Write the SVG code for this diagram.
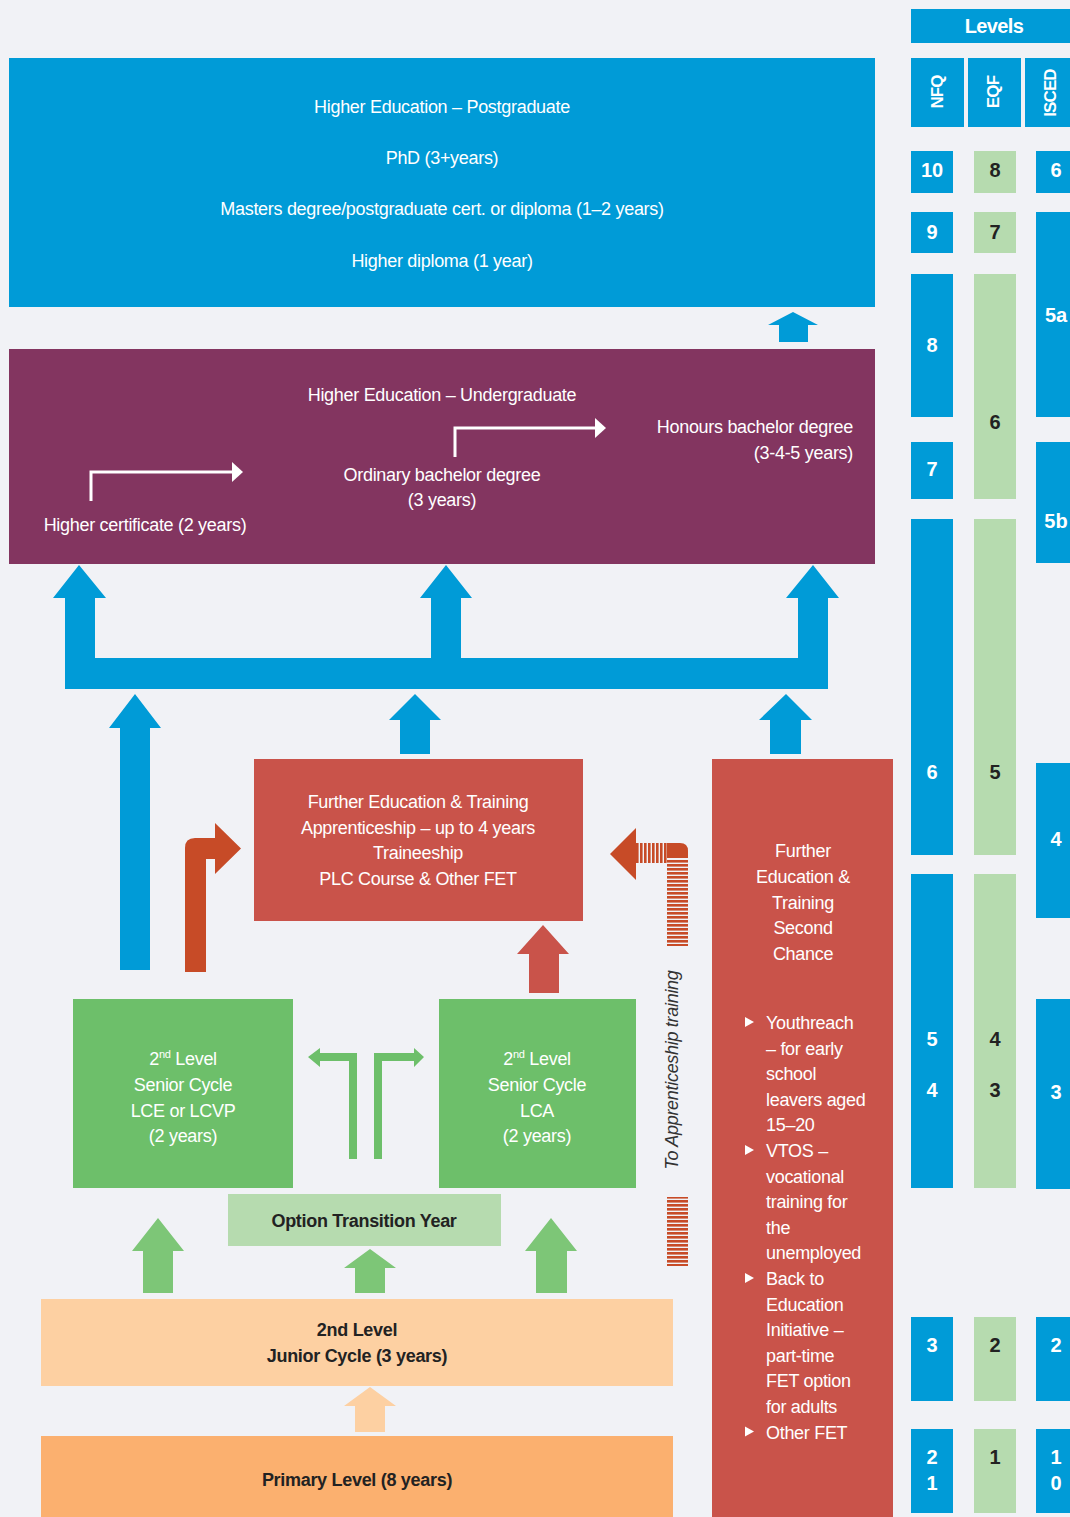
<svg xmlns="http://www.w3.org/2000/svg" width="1070" height="1517" viewBox="0 0 1070 1517">
<style>
.t{font-family:"Liberation Sans","Arial",sans-serif;font-size:18px;letter-spacing:-0.3px;fill:#fff;text-anchor:middle}
.b{font-weight:bold;fill:#222}
.lv{font-family:"Liberation Sans","Arial",sans-serif;font-size:20px;font-weight:bold;fill:#fff;text-anchor:middle}
.hd{font-size:17px;letter-spacing:-0.9px}
.dk{fill:#222}
.blue{fill:#009bd7}
.lg{fill:#b6dbaf}
.l{text-anchor:start}
.r{text-anchor:end}
</style>
<defs>
<pattern id="vs" width="4" height="10" patternUnits="userSpaceOnUse"><rect x="0" y="0" width="2.6" height="10" fill="#c74b27"/></pattern>
<pattern id="hs" width="10" height="4" patternUnits="userSpaceOnUse"><rect x="0" y="0" width="10" height="2.6" fill="#c74b27"/></pattern>
</defs>
<rect width="1070" height="1517" fill="#f1f2f6"/>

<g id="postgraduate">
<rect x="9" y="58" width="866" height="249" class="blue"/>
<text class="t" x="442" y="113">Higher Education – Postgraduate</text>
<text class="t" x="442" y="164">PhD (3+years)</text>
<text class="t" x="442" y="215">Masters degree/postgraduate cert. or diploma (1–2 years)</text>
<text class="t" x="442" y="267">Higher diploma (1 year)</text>
</g>

<g id="undergraduate">
<rect x="9" y="349" width="866" height="215" fill="#833560"/>
<text class="t" x="442" y="401">Higher Education – Undergraduate</text>
<text class="t r" x="853" y="433">Honours bachelor degree</text>
<text class="t r" x="853" y="459">(3-4-5 years)</text>
<text class="t" x="442" y="481">Ordinary bachelor degree</text>
<text class="t" x="442" y="506">(3 years)</text>
<text class="t" x="145" y="531">Higher certificate (2 years)</text>
<path d="M91,501 V472 H236" fill="none" stroke="#fff" stroke-width="3"/>
<path d="M232,462 L243,472 L232,482 Z" fill="#fff"/>
<path d="M455,457 V428 H599" fill="none" stroke="#fff" stroke-width="3"/>
<path d="M595,418 L606,428 L595,438 Z" fill="#fff"/>
</g>

<g id="fet">
<rect x="254" y="759" width="329" height="162" fill="#c9534a"/>
<text class="t" x="418" y="808">Further Education &amp; Training</text>
<text class="t" x="418" y="834">Apprenticeship – up to 4 years</text>
<text class="t" x="418" y="859">Traineeship</text>
<text class="t" x="418" y="885">PLC Course &amp; Other FET</text>
</g>

<g id="fet-second-chance">
<rect x="712" y="759" width="181" height="758" fill="#c9534a"/>
<text class="t" x="803" y="857">Further</text>
<text class="t" x="803" y="883">Education &amp;</text>
<text class="t" x="803" y="909">Training</text>
<text class="t" x="803" y="934">Second</text>
<text class="t" x="803" y="960">Chance</text>
<g fill="#fff">
<path d="M745,1017 L754,1022 L745,1027 Z"/>
<path d="M745,1145 L754,1150 L745,1155 Z"/>
<path d="M745,1273 L754,1278 L745,1283 Z"/>
<path d="M745,1426.6 L754,1431.6 L745,1436.6 Z"/>
</g>
<text class="t l" x="766" y="1029">Youthreach</text>
<text class="t l" x="766" y="1054.6">– for early</text>
<text class="t l" x="766" y="1080.2">school</text>
<text class="t l" x="766" y="1105.8">leavers aged</text>
<text class="t l" x="766" y="1131.4">15–20</text>
<text class="t l" x="766" y="1157">VTOS –</text>
<text class="t l" x="766" y="1182.6">vocational</text>
<text class="t l" x="766" y="1208.2">training for</text>
<text class="t l" x="766" y="1233.8">the</text>
<text class="t l" x="766" y="1259.4">unemployed</text>
<text class="t l" x="766" y="1285">Back to</text>
<text class="t l" x="766" y="1310.6">Education</text>
<text class="t l" x="766" y="1336.2">Initiative –</text>
<text class="t l" x="766" y="1361.8">part-time</text>
<text class="t l" x="766" y="1387.4">FET option</text>
<text class="t l" x="766" y="1413">for adults</text>
<text class="t l" x="766" y="1438.6">Other FET</text>
</g>

<g id="senior-cycle-lce">
<rect x="73" y="999" width="220" height="189" fill="#6dbf6a"/>
<text class="t" x="183" y="1065">2<tspan font-size="11" dy="-7">nd</tspan><tspan dy="7"> Level</tspan></text>
<text class="t" x="183" y="1091">Senior Cycle</text>
<text class="t" x="183" y="1117">LCE or LCVP</text>
<text class="t" x="183" y="1142">(2 years)</text>
</g>

<g id="senior-cycle-lca">
<rect x="439" y="999" width="197" height="189" fill="#6dbf6a"/>
<text class="t" x="537" y="1065">2<tspan font-size="11" dy="-7">nd</tspan><tspan dy="7"> Level</tspan></text>
<text class="t" x="537" y="1091">Senior Cycle</text>
<text class="t" x="537" y="1117">LCA</text>
<text class="t" x="537" y="1142">(2 years)</text>
</g>

<g id="transition-year">
<rect x="228" y="1194" width="273" height="52" class="lg"/>
<text class="t b" x="364" y="1227">Option Transition Year</text>
</g>

<g id="junior-cycle">
<rect x="41" y="1299" width="632" height="87" fill="#fdd0a2"/>
<text class="t b" x="357" y="1336">2nd Level</text>
<text class="t b" x="357" y="1362">Junior Cycle (3 years)</text>
</g>

<g id="primary">
<rect x="41" y="1436" width="632" height="81" fill="#fbb06f"/>
<text class="t b" x="357" y="1486">Primary Level (8 years)</text>
</g>

<g id="connectors">
<path class="blue" d="M779,342 L779,325 L768,325 L793,312 L818,325 L808,325 L808,342 Z"/>
<path class="blue" d="M65,689 L65,598 L53,598 L79,565 L106,598 L95,598 L95,658 L431,658 L431,598 L420,598 L446,565 L472,598 L461,598 L461,658 L798,658 L798,598 L786,598 L813,565 L839,598 L828,598 L828,689 Z"/>
<path class="blue" d="M120,970 L120,728 L109,728 L135,694 L161,728 L150,728 L150,970 Z"/>
<path class="blue" d="M400,754 L400,720 L389,720 L415,694 L441,720 L430,720 L430,754 Z"/>
<path class="blue" d="M770,754 L770,720 L759,720 L786,694 L812,720 L801,720 L801,754 Z"/>
<path fill="#c74b27" d="M185,972 L185,848 Q185,838 195,838 L215,838 L215,823 L241,848.5 L215,874 L215,859 L206,859 L206,972 Z"/>
<path fill="#c9534a" d="M529,993 L529,954 L517,954 L543,925 L569,954 L559,954 L559,993 Z"/>
<path fill="#c74b27" d="M610,854 L636,828 L636,880 Z"/>
<rect x="636" y="843" width="32" height="20" fill="url(#vs)"/>
<path fill="#c74b27" d="M667,843 L680,843 Q688,843 688,851 L688,858 L667,858 Z"/>
<rect x="667" y="859" width="21" height="87" fill="url(#hs)"/>
<rect x="667" y="1197" width="21" height="69" fill="url(#hs)"/>
<text font-family="'Liberation Sans',Arial,sans-serif" font-style="italic" font-size="18" letter-spacing="-0.3" fill="#333" text-anchor="middle" transform="translate(678,1070) rotate(-90)">To Apprenticeship training</text>
<path fill="#6dbf6a" d="M349,1159 L349,1061 L320,1061 L320,1067 L308,1057 L320,1048 L320,1053 L357,1053 L357,1159 Z"/>
<path fill="#6dbf6a" d="M382,1159 L382,1061 L414,1061 L414,1067 L424,1057 L414,1048 L414,1053 L374,1053 L374,1159 Z"/>
<path fill="#7dc677" d="M143,1293 L143,1251 L132,1251 L158,1218 L184,1251 L173,1251 L173,1293 Z"/>
<path fill="#7dc677" d="M355,1293 L355,1268 L344,1268 L370,1249 L396,1268 L385,1268 L385,1293 Z"/>
<path fill="#7dc677" d="M536,1293 L536,1251 L525,1251 L551,1218 L577,1251 L567,1251 L567,1293 Z"/>
<path fill="#fdd0a2" d="M355,1432 L355,1406 L344,1406 L370,1387 L396,1406 L385,1406 L385,1432 Z"/>
</g>

<g id="levels">
<rect x="911" y="9" width="159" height="34" class="blue"/>
<text class="lv" font-size="18" letter-spacing="-0.6" x="994" y="33">Levels</text>
<rect x="911" y="58" width="53" height="69" class="blue"/>
<rect x="968" y="58" width="53" height="69" class="blue"/>
<rect x="1025" y="58" width="45" height="69" class="blue"/>
<text class="lv hd" transform="translate(943,92) rotate(-90)">NFQ</text>
<text class="lv hd" transform="translate(999,92) rotate(-90)">EQF</text>
<text class="lv hd" transform="translate(1056,93) rotate(-90)">ISCED</text>
</g>

<g id="nfq">
<rect x="911" y="151" width="42" height="42" class="blue"/>
<text class="lv" x="932" y="177">10</text>
<rect x="911" y="212" width="42" height="41" class="blue"/>
<text class="lv" x="932" y="239">9</text>
<rect x="911" y="274" width="42" height="143" class="blue"/>
<text class="lv" x="932" y="352">8</text>
<rect x="911" y="442" width="42" height="57" class="blue"/>
<text class="lv" x="932" y="476">7</text>
<rect x="911" y="519" width="42" height="336" class="blue"/>
<text class="lv" x="932" y="779">6</text>
<rect x="911" y="874" width="42" height="314" class="blue"/>
<text class="lv" x="932" y="1046">5</text>
<text class="lv" x="932" y="1097">4</text>
<rect x="911" y="1317" width="42" height="84" class="blue"/>
<text class="lv" x="932" y="1352">3</text>
<rect x="911" y="1429" width="42" height="84" class="blue"/>
<text class="lv" x="932" y="1464">2</text>
<text class="lv" x="932" y="1490">1</text>
</g>

<g id="eqf">
<rect x="974" y="151" width="42" height="42" class="lg"/>
<text class="lv dk" x="995" y="177">8</text>
<rect x="974" y="212" width="42" height="41" class="lg"/>
<text class="lv dk" x="995" y="239">7</text>
<rect x="974" y="274" width="42" height="225" class="lg"/>
<text class="lv dk" x="995" y="429">6</text>
<rect x="974" y="519" width="42" height="336" class="lg"/>
<text class="lv dk" x="995" y="779">5</text>
<rect x="974" y="874" width="42" height="314" class="lg"/>
<text class="lv dk" x="995" y="1046">4</text>
<text class="lv dk" x="995" y="1097">3</text>
<rect x="974" y="1317" width="42" height="84" class="lg"/>
<text class="lv dk" x="995" y="1352">2</text>
<rect x="974" y="1429" width="42" height="84" class="lg"/>
<text class="lv dk" x="995" y="1464">1</text>
</g>

<g id="isced">
<rect x="1036" y="151" width="34" height="42" class="blue"/>
<text class="lv" x="1056" y="177">6</text>
<rect x="1036" y="212" width="34" height="205" class="blue"/>
<text class="lv" x="1056" y="322">5a</text>
<rect x="1036" y="442" width="34" height="121" class="blue"/>
<text class="lv" x="1056" y="528">5b</text>
<rect x="1036" y="763" width="34" height="155" class="blue"/>
<text class="lv" x="1056" y="846">4</text>
<rect x="1036" y="999" width="34" height="190" class="blue"/>
<text class="lv" x="1056" y="1099">3</text>
<rect x="1036" y="1317" width="34" height="84" class="blue"/>
<text class="lv" x="1056" y="1352">2</text>
<rect x="1036" y="1429" width="34" height="84" class="blue"/>
<text class="lv" x="1056" y="1464">1</text>
<text class="lv" x="1056" y="1490">0</text>
</g>
</svg>
